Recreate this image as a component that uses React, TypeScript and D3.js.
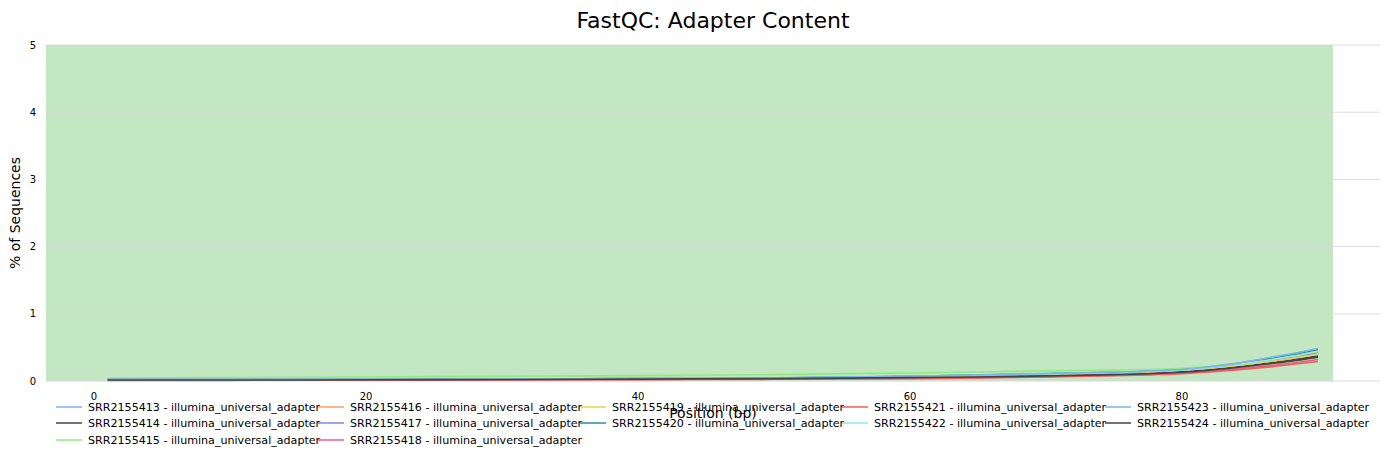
import React from "react";
import * as d3 from "d3";

const positions = [1, 10, 20, 30, 40, 50, 60, 65, 70, 75, 78, 80, 82, 84, 86, 88, 90];

const sampleNames = [
  "SRR2155413", "SRR2155414", "SRR2155415", "SRR2155416", "SRR2155417", "SRR2155418",
  "SRR2155419", "SRR2155420", "SRR2155421", "SRR2155422", "SRR2155423", "SRR2155424",
];
const adapterName = "illumina_universal_adapter";
const colors = [
  "#7cb5ec", "#434348", "#90ed7d", "#f7a35c", "#8085e9", "#f15c80",
  "#e4d354", "#2b908f", "#f45b5b", "#91e8e1", "#7cb5ec", "#434348",
];

const s413 = [0.02, 0.02, 0.025, 0.03, 0.035, 0.045, 0.07, 0.09, 0.11, 0.13, 0.15, 0.17, 0.21, 0.26, 0.33, 0.4, 0.48];
const s414 = [0.015, 0.015, 0.02, 0.025, 0.03, 0.04, 0.055, 0.065, 0.08, 0.1, 0.12, 0.14, 0.17, 0.21, 0.26, 0.31, 0.37];
const s415 = [0.045, 0.05, 0.06, 0.07, 0.08, 0.095, 0.12, 0.135, 0.15, 0.165, 0.175, 0.19, 0.22, 0.26, 0.31, 0.37, 0.45];
const s416 = [0.02, 0.02, 0.025, 0.03, 0.035, 0.045, 0.065, 0.08, 0.1, 0.12, 0.14, 0.16, 0.19, 0.23, 0.28, 0.34, 0.41];
const s417 = [0.02, 0.02, 0.025, 0.03, 0.035, 0.045, 0.065, 0.08, 0.1, 0.12, 0.14, 0.16, 0.19, 0.235, 0.285, 0.345, 0.42];
const s418 = [0.012, 0.012, 0.015, 0.018, 0.022, 0.03, 0.04, 0.05, 0.065, 0.085, 0.1, 0.118, 0.145, 0.18, 0.22, 0.265, 0.32];
const s419 = [0.02, 0.02, 0.025, 0.03, 0.035, 0.045, 0.065, 0.08, 0.1, 0.12, 0.14, 0.16, 0.19, 0.23, 0.28, 0.335, 0.4];
const s420 = [0.02, 0.02, 0.025, 0.03, 0.035, 0.045, 0.07, 0.088, 0.108, 0.128, 0.148, 0.168, 0.205, 0.255, 0.32, 0.39, 0.47];
const s421 = [0.01, 0.01, 0.012, 0.015, 0.02, 0.025, 0.035, 0.045, 0.06, 0.08, 0.095, 0.11, 0.135, 0.165, 0.2, 0.245, 0.29];
const s422 = [0.02, 0.02, 0.025, 0.03, 0.035, 0.045, 0.068, 0.085, 0.104, 0.124, 0.144, 0.164, 0.198, 0.245, 0.3, 0.365, 0.44];
const s423 = [0.02, 0.02, 0.025, 0.03, 0.035, 0.046, 0.071, 0.091, 0.112, 0.132, 0.152, 0.172, 0.212, 0.262, 0.332, 0.402, 0.485];
const s424 = [0.014, 0.014, 0.018, 0.022, 0.028, 0.036, 0.05, 0.06, 0.075, 0.095, 0.112, 0.13, 0.16, 0.2, 0.245, 0.295, 0.355];

const seriesValues = [s413, s414, s415, s416, s417, s418, s419, s420, s421, s422, s423, s424];

const xTicks = [0, 20, 40, 60, 80];
const yTicks = [0, 1, 2, 3, 4, 5];
const xDomain = [-3.53, 94.56];
const yDomain = [0, 5];
const goodBandX = [-3.53, 91.1];

const title = "FastQC: Adapter Content";
const xLabel = "Position (bp)";
const yLabel = "% of Sequences";

export default function App() {
  const W = 1389;
  const H = 460;
  const left = 46;
  const right = 1380;
  const top = 45;
  const bottom = 381;
  const font = "DejaVu Sans, sans-serif";

  const x = d3.scaleLinear().domain(xDomain).range([left, right]);
  const y = d3.scaleLinear().domain(yDomain).range([bottom, top]);

  const line = d3
    .line<[number, number]>()
    .x((d) => x(d[0]))
    .y((d) => y(d[1]))
    .curve(d3.curveMonotoneX);

  // legend layout: column-major, 3 rows
  const colTextX = [88, 350, 612, 874, 1137];
  const rowY = [407, 423, 440];
  const colCounts = [3, 3, 2, 2, 2];
  const legendItems: { i: number; col: number; row: number }[] = [];
  let idx = 0;
  colCounts.forEach((n, c) => {
    for (let r = 0; r < n; r++) {
      legendItems.push({ i: idx, col: c, row: r });
      idx++;
    }
  });

  return (
    <svg
      width={W}
      height={H}
      style={{ position: "absolute", left: 0, top: 0, background: "#fff" }}
      fontFamily={font}
    >
      <rect x={0} y={0} width={W} height={H} fill="#fff" />
      <text x={713} y={28} textAnchor="middle" fontSize={22} fill="#000">
        {title}
      </text>
      <rect
        x={x(goodBandX[0])}
        y={y(yDomain[1])}
        width={x(goodBandX[1]) - x(goodBandX[0])}
        height={y(yDomain[0]) - y(yDomain[1])}
        fill="#c3e6c3"
      />
      {yTicks.map((t) => (
        <g key={t}>
          <line
            x1={left}
            x2={right}
            y1={y(t)}
            y2={y(t)}
            stroke="#d8d8d8"
            strokeOpacity={t === 0 ? 1 : 0.85}
            strokeWidth={1}
          />
          <text x={36} y={y(t)} dy="0.35em" textAnchor="end" fontSize={10} fill="#000">
            {t}
          </text>
        </g>
      ))}
      {xTicks.map((t) => (
        <text key={t} x={x(t)} y={396} dy="0.35em" textAnchor="middle" fontSize={10} fill="#000">
          {t}
        </text>
      ))}
      {seriesValues.map((vals, i) => (
        <path
          key={i}
          d={line(positions.map((p, k) => [p, vals[k]] as [number, number])) || ""}
          fill="none"
          stroke={colors[i]}
          strokeWidth={1.6}
        />
      ))}
      <text
        transform={`translate(20,213) rotate(-90)`}
        textAnchor="middle"
        fontSize={14}
        fill="#000"
      >
        {yLabel}
      </text>
      <text x={713} y={418} textAnchor="middle" fontSize={14} fill="#000">
        {xLabel}
      </text>
      {legendItems.map(({ i, col, row }) => (
        <g key={i}>
          <line
            x1={colTextX[col] - 32}
            x2={colTextX[col] - 6}
            y1={rowY[row]}
            y2={rowY[row]}
            stroke={colors[i]}
            strokeWidth={1.5}
          />
          <text x={colTextX[col]} y={rowY[row]} dy="0.35em" fontSize={11.1} fill="#000">
            {`${sampleNames[i]} - ${adapterName}`}
          </text>
        </g>
      ))}
    </svg>
  );
}
